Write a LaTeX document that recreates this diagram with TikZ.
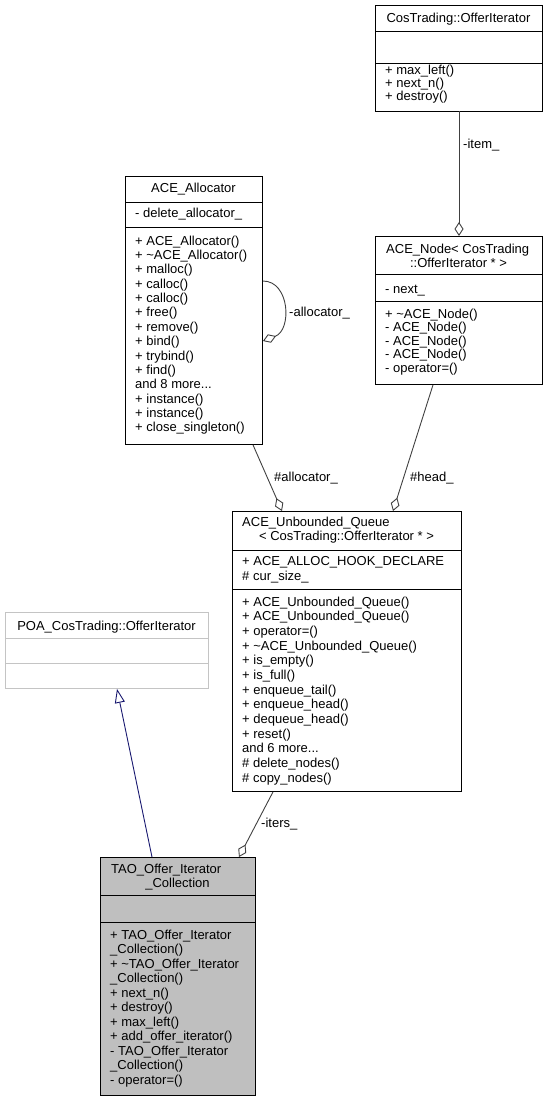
\documentclass[tikz,border=0pt]{standalone}
\usepackage{fontspec}
\setmainfont{Liberation Sans}
\usetikzlibrary{arrows.meta}
\definecolor{boxfill}{RGB}{191,191,191}
\definecolor{poaline}{RGB}{196,196,196}
\definecolor{edgegray}{RGB}{64,64,64}
\definecolor{inhblue}{RGB}{25,25,112}
\newcommand\mydots{...}
\begin{document}
\begin{tikzpicture}[x=1pt,y=-1pt,
  classbox/.style={draw=black,line width=0.9pt,inner sep=0pt,anchor=north west},
  txt/.style={inner sep=0pt,anchor=base west,font=\fontsize{13}{15}\selectfont},
  ctxt/.style={inner sep=0pt,anchor=base,font=\fontsize{13}{15}\selectfont},
  agg/.style={draw=edgegray,line width=0.9pt,-{Diamond[fill=white,length=14pt,width=9pt]}},
  inh/.style={draw=inhblue,line width=0.9pt,-{Triangle[fill=white,length=14pt,width=10pt]}},
  divline/.style={line width=0.9pt}
]
\useasboundingbox (0,0) rectangle (547,1101);

% ---------- CosTrading::OfferIterator
\node[classbox,minimum width=167pt,minimum height=105.5pt] (cos) at (375,5) {};
\draw[divline] (375,31) -- (542,31);
\draw[divline] (375,63) -- (542,63);
\node[ctxt] (cost) at (458.5,22) {CosTrading::OfferIterator};
\foreach \t [count=\i from 0] in {{+ max\_left()},{+ next\_n()},{+ destroy()}}
  \node[txt] (cosm\i) at (385,74+13.3*\i) {\t};

% ---------- ACE_Node
\node[classbox,minimum width=167pt,minimum height=148pt] (acenode) at (375,236) {};
\draw[divline] (375,274) -- (542,274);
\draw[divline] (375,301) -- (542,301);
\node[txt] (nodet1) at (386,253) {ACE\_Node< CosTrading};
\node[ctxt] (nodet2) at (458.5,267) {::OfferIterator * >};
\node[txt] (nodea1) at (385,293) {- next\_};
\foreach \t [count=\i from 0] in {{+ \textasciitilde ACE\_Node()},{- ACE\_Node()},{- ACE\_Node()},{- ACE\_Node()},{- operator=()}}
  \node[txt] (nodem\i) at (385,318+13.5*\i) {\t};

% ---------- ACE_Allocator
\node[classbox,minimum width=137pt,minimum height=268pt] (alloc) at (125,176) {};
\draw[divline] (125,202) -- (262,202);
\draw[divline] (125,227) -- (262,227);
\node[ctxt] (allt) at (193.5,192) {ACE\_Allocator};
\node[txt] (alla1) at (135,217) {- delete\_allocator\_};
\foreach \t [count=\i from 0] in {{+ ACE\_Allocator()},{+ \textasciitilde ACE\_Allocator()},{+ malloc()},{+ calloc()},{+ calloc()},{+ free()},{+ remove()},{+ bind()},{+ trybind()},{+ find()},{and 8 more\mydots},{+ instance()},{+ instance()},{+ close\_singleton()}}
  \node[txt] (allm\i) at (135,245+14.38*\i) {\t};

% ---------- ACE_Unbounded_Queue
\node[classbox,minimum width=229pt,minimum height=280pt] (unb) at (232,511) {};
\draw[divline] (232,550) -- (461,550);
\draw[divline] (232,589) -- (461,589);
\node[txt] (unbt1) at (242,526) {ACE\_Unbounded\_Queue};
\node[ctxt] (unbt2) at (346.5,540) {< CosTrading::OfferIterator * >};
\node[txt] (unba1) at (242,565) {+ ACE\_ALLOC\_HOOK\_DECLARE};
\node[txt] (unba2) at (242,580) {\# cur\_size\_};
\foreach \t [count=\i from 0] in {{+ ACE\_Unbounded\_Queue()},{+ ACE\_Unbounded\_Queue()},{+ operator=()},{+ \textasciitilde ACE\_Unbounded\_Queue()},{+ is\_empty()},{+ is\_full()},{+ enqueue\_tail()},{+ enqueue\_head()},{+ dequeue\_head()},{+ reset()},{and 6 more\mydots},{\# delete\_nodes()},{\# copy\_nodes()}}
  \node[txt] (unbm\i) at (242,606+14.67*\i) {\t};

% ---------- POA_CosTrading::OfferIterator
\node[classbox,draw=poaline,minimum width=203pt,minimum height=76pt] (poa) at (5,612) {};
\draw[divline,poaline] (5,638) -- (208,638);
\draw[divline,poaline] (5,663) -- (208,663);
\node[ctxt] (poat) at (106.5,630) {POA\_CosTrading::OfferIterator};

% ---------- TAO_Offer_Iterator_Collection
\node[classbox,fill=boxfill,minimum width=155pt,minimum height=238pt] (tao) at (100,857) {};
\draw[divline] (100,895) -- (255,895);
\draw[divline] (100,922) -- (255,922);
\node[txt] (taot1) at (111,873) {TAO\_Offer\_Iterator};
\node[ctxt] (taot2) at (177.5,887) {\_Collection};
\foreach \t [count=\i from 0] in {{+ TAO\_Offer\_Iterator},{\_Collection()},{+ \textasciitilde TAO\_Offer\_Iterator},{\_Collection()},{+ next\_n()},{+ destroy()},{+ max\_left()},{+ add\_offer\_iterator()},{- TAO\_Offer\_Iterator},{\_Collection()},{- operator=()}}
  \node[txt] (taom\i) at (110,939+14.5*\i) {\t};

% ---------- connectors
\draw[agg] ([xshift=84pt]cos.south west) -- ([xshift=84pt]acenode.north west);
\node[txt] (litem) at (463,148) {-item\_};

\draw[agg] ([yshift=-105pt]alloc.north east) .. controls (290,281) and (292,330) .. ([yshift=-165pt]alloc.north east);
\node[txt] (lallocself) at (289,316) {-allocator\_};

\draw[agg] ([xshift=128pt]alloc.south west) -- ([xshift=50pt]unb.north west);
\node[txt] (lalloc) at (274,481) {\#allocator\_};

\draw[agg] ([xshift=58pt]acenode.south west) -- ([xshift=161pt]unb.north west);
\node[txt] (lhead) at (410,481) {\#head\_};

\draw[agg] ([xshift=41pt]unb.south west) -- ([xshift=139pt]tao.north west);
\node[txt] (liters) at (261,827) {-iters\_};

\draw[inh] ([xshift=52pt]tao.north west) -- ([xshift=112pt]poa.south west);
\end{tikzpicture}
\end{document}
